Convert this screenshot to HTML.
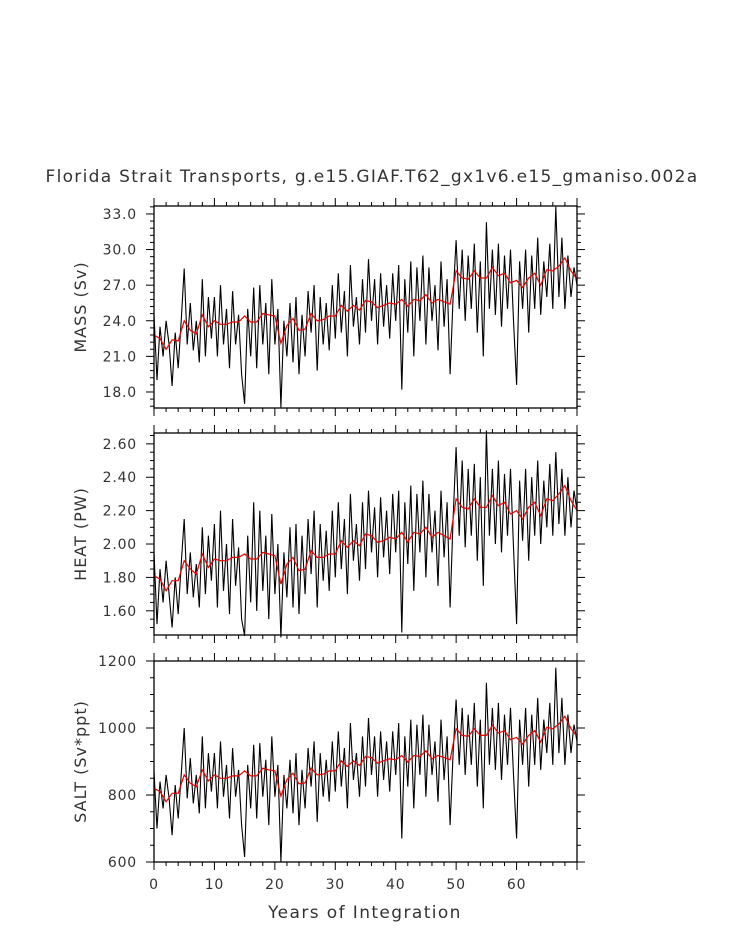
<!DOCTYPE html>
<html><head><meta charset="utf-8"><style>
html,body{margin:0;padding:0;background:#fff;}
svg{display:block;font-family:"DejaVu Sans","Liberation Sans",sans-serif;}
</style></head><body>
<svg id="c" width="733" height="945" xmlns="http://www.w3.org/2000/svg">
<text x="372" y="182" text-anchor="middle" font-size="17" letter-spacing="1.3" fill="#333">Florida Strait Transports, g.e15.GIAF.T62_gx1v6.e15_gmaniso.002a</text>
<text x="365" y="918" text-anchor="middle" font-size="17" letter-spacing="1.4" fill="#333">Years of Integration</text>
</svg>
<script>
const massBlack=[24.5,19,23.5,21,24,22,18.5,23,20,24,
28.4,22,25.5,21.5,24,20.5,27.5,21,26,22.5,
26,21,27,22,25,20,26.5,22,24.5,19.5,
17,25,21,26.8,20,27,22,25.5,19.5,27.5,
22,25,16.7,24,21,25.5,20.5,26,19.5,24.5,
21,26.5,23,27,19.8,26,22,25.5,21.5,27,
22.5,28,23,26.5,21,28.7,23.5,26,22,27.5,
23,29.2,24,27.5,22,28,23.5,27,22.5,28,
24,28.7,18.2,27.5,23,29,21,28.5,24,29.5,
22,28.5,24,27,21.5,29,23.5,27.5,19.5,26,
30.8,25,30,24,29.5,25,30.5,23,29,21,
32.3,25,30,24.5,30.5,23.5,29.5,25,30,24,
18.6,29,25,30,23,29.5,25,31,24.5,29,
26,30.5,25,33.6,26,31,25,29.5,26,28.5,27];
const massRed=[22.8,22.5,21.6,22.4,22.3,24.0,23.2,22.9,24.5,23.5,24.0,23.7,23.7,23.9,23.9,24.4,23.9,23.9,24.6,24.5,24.4,22.1,23.6,24.2,23.2,23.3,24.6,24.0,24.1,24.4,24.4,25.3,24.8,25.3,24.9,25.7,25.6,25.1,25.3,25.5,25.4,25.8,25.2,25.8,25.7,26.2,25.5,25.8,25.6,25.4,28.2,27.6,27.5,28.2,27.6,27.6,28.5,27.8,28.0,27.2,27.4,26.8,27.6,28.0,27.0,28.3,28.2,28.6,29.3,28.2,27.5];
const heatBlack=[1.95,1.52,1.85,1.65,1.90,1.70,1.50,1.80,1.58,1.88,
2.15,1.70,1.95,1.68,1.88,1.62,2.10,1.70,2.05,1.78,
2.12,1.62,2.20,1.72,2.00,1.58,2.15,1.75,1.98,1.55,
1.45,2.05,1.65,2.25,1.60,2.20,1.72,2.05,1.55,2.18,
1.70,2.00,1.44,1.95,1.68,2.10,1.62,2.12,1.58,2.05,
1.70,2.15,1.82,2.20,1.62,2.12,1.78,2.08,1.72,2.20,
1.80,2.25,1.85,2.15,1.70,2.30,1.90,2.12,1.78,2.25,
1.85,2.32,1.95,2.22,1.80,2.28,1.92,2.20,1.82,2.30,
1.95,2.32,1.47,2.25,1.88,2.35,1.72,2.30,1.95,2.38,
1.80,2.30,1.95,2.20,1.75,2.32,1.92,2.25,1.62,2.15,
2.58,2.05,2.50,1.98,2.45,2.05,2.48,1.90,2.40,1.75,
2.68,2.05,2.45,2.00,2.50,1.95,2.42,2.05,2.45,1.98,
1.52,2.38,2.02,2.45,1.90,2.40,2.05,2.50,2.00,2.38,
2.10,2.48,2.05,2.55,2.12,2.45,2.05,2.40,2.10,2.32,2.20];
const heatRed=[1.81,1.79,1.72,1.78,1.78,1.90,1.85,1.82,1.94,1.86,1.91,1.90,1.90,1.92,1.92,1.94,1.91,1.91,1.95,1.94,1.93,1.76,1.88,1.92,1.84,1.85,1.96,1.92,1.92,1.94,1.94,2.02,1.98,2.02,1.99,2.06,2.05,2.01,2.02,2.04,2.03,2.07,2.01,2.07,2.06,2.10,2.04,2.07,2.05,2.03,2.27,2.22,2.21,2.27,2.22,2.22,2.29,2.23,2.25,2.18,2.20,2.15,2.22,2.25,2.17,2.27,2.26,2.30,2.35,2.26,2.20];
const saltBlack=[870,700,840,760,860,790,680,830,730,860,
1000,790,910,775,860,745,975,760,925,810,
925,760,960,795,890,730,940,795,875,710,
615,890,760,950,730,955,795,905,710,975,
795,890,600,860,760,905,745,925,710,875,
760,940,825,960,720,925,795,905,780,960,
810,990,825,940,760,1015,845,925,795,975,
825,1030,860,975,795,990,845,960,810,990,
860,1015,670,975,825,1025,760,1010,860,1040,
795,1010,860,960,780,1025,845,975,710,925,
1085,890,1060,860,1040,890,1075,825,1025,760,
1135,890,1060,875,1075,845,1040,890,1060,860,
670,1025,890,1060,825,1040,890,1090,875,1025,
925,1075,890,1180,925,1090,890,1040,925,1010,960];
const saltRed=[820,810,780,805,805,860,835,825,875,842,860,850,850,857,857,872,857,857,880,875,872,797,846,865,833,836,880,860,862,872,872,902,885,902,888,915,912,895,902,908,905,918,898,918,915,932,908,918,912,905,998,978,975,998,978,978,1008,985,992,965,972,952,978,992,958,1002,998,1012,1035,998,975];
const xTicks=[0,10,20,30,40,50,60];
const massTicks=[18,21,24,27,30,33];
const heatTicks=[1.6,1.8,2.0,2.2,2.4,2.6];
const saltTicks=[600,800,1000,1200];

const svg=document.getElementById('c');
const NS='http://www.w3.org/2000/svg';
const X0=154,X1=577,XMIN=0,XMAX=70;
const xs=v=>X0+(v-XMIN)/(XMAX-XMIN)*(X1-X0);
function mk(tag,attrs,parent){const e=document.createElementNS(NS,tag);for(const k in attrs)e.setAttribute(k,attrs[k]);(parent||svg).appendChild(e);return e;}
const panels=[
 {key:'mass',top:206,bot:408,min:16.65,max:33.67,ticks:massTicks,minor:0.6,fmt:v=>v.toFixed(1),title:'MASS (Sv)',black:massBlack,red:massRed},
 {key:'heat',top:433,bot:635,min:1.455,max:2.665,ticks:heatTicks,minor:0.05,fmt:v=>v.toFixed(2),title:'HEAT (PW)',black:heatBlack,red:heatRed},
 {key:'salt',top:661,bot:862,min:600,max:1200,ticks:saltTicks,minor:50,fmt:v=>String(v),title:'SALT (Sv*ppt)',black:saltBlack,red:saltRed}
];
panels.forEach((p,pi)=>{
 const g=mk('g',{});
 
 
 const ys=v=>p.bot-(v-p.min)/(p.max-p.min)*(p.bot-p.top);
 let d='';p.black.forEach((v,i)=>{d+=(i?'L':'M')+xs(i*0.5).toFixed(1)+' '+ys(v).toFixed(1);});
 const bl=mk('path',{d:d,fill:'none',stroke:'#000','stroke-width':1.1},g);
 
 
 d='';p.red.forEach((v,i)=>{d+=(i?'L':'M')+xs(i).toFixed(1)+' '+ys(v).toFixed(1);});
 const rl=mk('path',{d:d,fill:'none',stroke:'#e00','stroke-width':1.2},g);
 
 
 const fr=mk('rect',{x:X0,y:p.top,width:X1-X0,height:p.bot-p.top,fill:'none',stroke:'#000','stroke-width':1.3},g);
 
 
 for(let t=0;t<=XMAX;t+=2){const x=xs(t);const L=(t%10===0)?8:4;
  mk('line',{x1:x,y1:p.top,x2:x,y2:p.top-L,stroke:'#000','stroke-width':1},g);
  mk('line',{x1:x,y1:p.bot,x2:x,y2:p.bot+L,stroke:'#000','stroke-width':1},g);}
 const start=Math.ceil(p.min/p.minor-1e-6);
 for(let k=start;k*p.minor<=p.max+1e-9;k++){const v=k*p.minor;const y=ys(v);
  const major=p.ticks.some(t=>Math.abs(t-v)<1e-6);const L=major?8:4;
  mk('line',{x1:X0,y1:y,x2:X0-L,y2:y,stroke:'#000','stroke-width':1},g);
  mk('line',{x1:X1,y1:y,x2:X1+L,y2:y,stroke:'#000','stroke-width':1},g);}
 p.ticks.forEach(t=>{const tx=mk('text',{x:137,y:ys(t)+5,'text-anchor':'end','font-size':14,'letter-spacing':0.8,fill:'#333'},g);
  tx.textContent=p.fmt(t);
  
  });
 const cy=(p.top+p.bot)/2;
 const yt=mk('text',{x:0,y:0,transform:`translate(86 ${cy}) rotate(-90)`,'text-anchor':'middle','font-size':16,'letter-spacing':1,fill:'#333'},g);
 yt.textContent=p.title;
 
 
 if(pi===2){xTicks.forEach(t=>{const tx=mk('text',{x:xs(t),y:889,'text-anchor':'middle','font-size':14,'letter-spacing':0.8,fill:'#333'},g);
  tx.textContent=String(t);
  
  });}
});
</script>
</body></html>
